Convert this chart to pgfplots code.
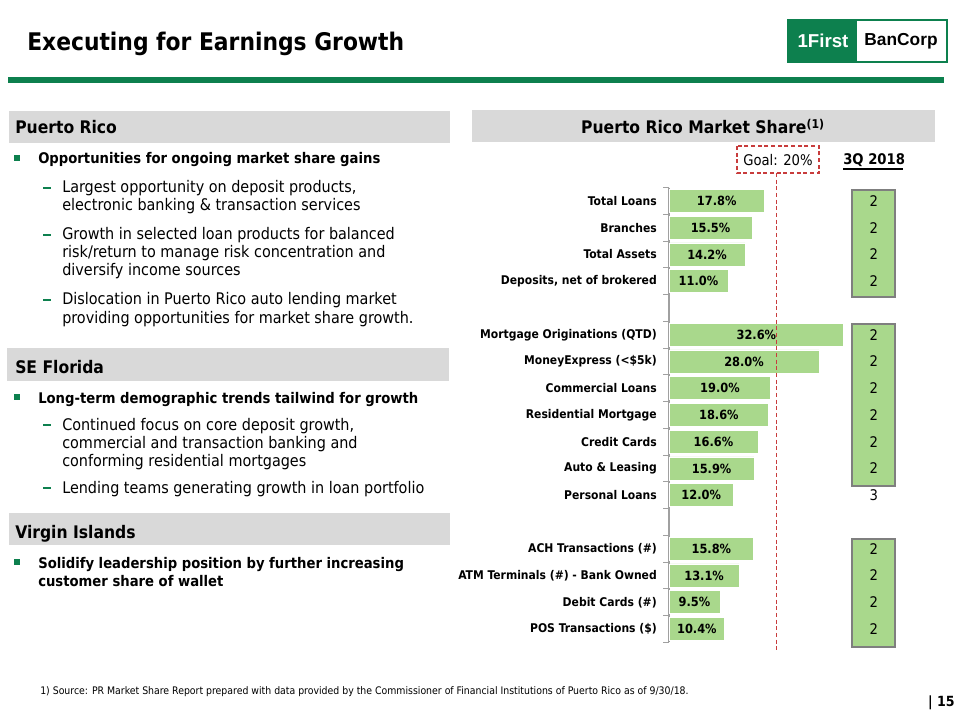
\documentclass[border=0pt]{standalone}
\usepackage{pgfplots}
\pgfplotsset{compat=1.18}
\usepackage{pgfplotstable}
\usepackage{fontspec}
\setmainfont{DejaVu Sans Condensed}
\newfontfamily\logofont{Liberation Sans}
\definecolor{fbgreen}{RGB}{13,128,78}
\definecolor{hdrgrey}{RGB}{217,217,217}
\definecolor{bargreen}{RGB}{169,216,140}
\definecolor{boxgrey}{RGB}{127,127,127}
\definecolor{goalred}{RGB}{200,60,60}
\definecolor{axgrey}{RGB}{160,160,160}

\pgfplotstableread{
y  v    rank
0  17.8 2
1  15.5 2
2  14.2 2
3  11.0 2
5  32.6 2
6  28.0 2
7  19.0 2
8  18.6 2
9  16.6 2
10 15.9 2
11 12.0 3
13 15.8 2
14 13.1 2
15 9.5  2
16 10.4 2
}\sharedata

\newcommand\fs[1]{\fontsize{#1}{1.2\dimexpr#1\relax}\selectfont}

\begin{document}
\begin{tikzpicture}[x=0.75pt,y=-0.75pt]
\useasboundingbox (0,0) rectangle (960,720);

% title and rule
\node[anchor=base west,inner sep=0pt,font=\fs{18.2pt}\bfseries] at (27,51) {Executing for Earnings Growth};
\fill[fbgreen] (8,77) rectangle (944,83);

% logo
\fill[fbgreen] (788,20) rectangle (857,62);
\draw[fbgreen,line width=1pt] (788,20) rectangle (947,62);
\node[anchor=center,inner sep=0pt,text=white,font=\logofont\fs{14pt}\bfseries] at (823,41) {1First};
\node[anchor=center,inner sep=0pt,text=black,font=\logofont\fs{13pt}\bfseries] at (901,41) {BanCorp};

% left headers
\fill[hdrgrey] (9,111) rectangle (450,143);
\node[anchor=base west,inner sep=0pt,font=\fs{13pt}\bfseries] at (15,134) {Puerto Rico};
\fill[hdrgrey] (7,348) rectangle (449,381);
\node[anchor=base west,inner sep=0pt,font=\fs{13pt}\bfseries] at (15,373) {SE Florida};
\fill[hdrgrey] (9,513) rectangle (450,545);
\node[anchor=base west,inner sep=0pt,font=\fs{13pt}\bfseries] at (15,538) {Virgin Islands};

% bullets
\foreach \b in {164,403,568} {\fill[fbgreen] (14,\b-9) rectangle (20,\b-3);}
\foreach \b in {193,240,305,430,493} {\draw[fbgreen,line width=0.9pt] (43,\b-5) -- (51,\b-5);}
\begin{scope}[every node/.style={anchor=base west,inner sep=0pt}]
\node[font=\fs{11pt}\bfseries] at (38,164) {Opportunities for ongoing market share gains};
\node[font=\fs{12pt}] at (62,193) {Largest opportunity on deposit products,};
\node[font=\fs{12pt}] at (62,211) {electronic banking \& transaction services};
\node[font=\fs{12pt}] at (62,240) {Growth in selected loan products for balanced};
\node[font=\fs{12pt}] at (62,258) {risk/return to manage risk concentration and};
\node[font=\fs{12pt}] at (62,276) {diversify income sources};
\node[font=\fs{12pt}] at (62,305) {Dislocation in Puerto Rico auto lending market};
\node[font=\fs{12pt}] at (62,323) {providing opportunities for market share growth.};
\node[font=\fs{11pt}\bfseries] at (38,403) {Long-term demographic trends tailwind for growth};
\node[font=\fs{12pt}] at (62,430) {Continued focus on core deposit growth,};
\node[font=\fs{12pt}] at (62,448) {commercial and transaction banking and};
\node[font=\fs{12pt}] at (62,466) {conforming residential mortgages};
\node[font=\fs{12pt}] at (62,493) {Lending teams generating growth in loan portfolio};
\node[font=\fs{11pt}\bfseries] at (38,568) {Solidify leadership position by further increasing};
\node[font=\fs{11pt}\bfseries] at (38,586) {customer share of wallet};
\end{scope}

% right header
\fill[hdrgrey] (472,110) rectangle (935,142);
\node[anchor=base,inner sep=0pt,font=\fs{13pt}\bfseries] at (703,134) {Puerto Rico Market Share\textsuperscript{(1)}};
\draw[goalred,line width=0.9pt,dash pattern=on 3pt off 2pt] (737,146) rectangle (819,173);
\node[anchor=base,inner sep=0pt,font=\fs{11pt}] at (778,166) {Goal: 20\%};
\node[anchor=base west,inner sep=0pt,font=\fs{11pt}\bfseries] at (843,165) {3Q 2018};
\draw[black,line width=0.8pt] (843,169) -- (903,169);

% rank boxes
\foreach \ya/\yb in {190/297,324/486,539/647}
  {\draw[boxgrey,fill=bargreen,line width=1.2pt] (852,\ya) rectangle (895,\yb);}

\begin{axis}[
  at={(501.75pt,-140.7pt)}, anchor=north west,
  scale only axis, width=140.7pt, height=341.1pt,
  xmin=0, xmax=35, ymin=-0.5, ymax=16.5, y dir=reverse,
  axis x line=none, axis y line*=left,
  axis line style={axgrey,line width=0.8pt},
  clip=false,
  ytick={0,...,16},
  yticklabels={Total Loans,Branches\ ,Total Assets,{Deposits, net of brokered},,
    Mortgage Originations (QTD),MoneyExpress (<\$5k),Commercial Loans,Residential Mortgage,
    Credit Cards,Auto \& Leasing,Personal Loans,,
    ACH Transactions (\#),ATM Terminals (\#) - Bank Owned,Debit Cards (\#),POS Transactions (\$)},
  major tick length=0pt,
  yticklabel style={font=\fs{9pt}\bfseries,inner sep=0pt,xshift=-9pt},
  extra y ticks={-0.5,0.5,...,16.5},
  extra y tick labels={},
  extra y tick style={major tick length=4.5pt,tick align=outside,tick style={axgrey,line width=0.8pt}},
  /pgf/number format/assume math mode=true,
]
\addplot[xbar, bar width=17.3pt, fill=bargreen, draw=white, line width=0.6pt] table[x=v,y=y]{\sharedata};
\addplot[only marks, mark=*, mark size=0pt, point meta=explicit,
  nodes near coords={\pgfmathprintnumber[fixed,fixed zerofill,precision=1]{\pgfplotspointmeta}\%},
  every node near coord/.style={anchor=center,font=\fs{9.5pt}\bfseries,text=black}]
  table[x expr=\thisrow{v}/2, y=y, meta=v]{\sharedata};
\draw[goalred,line width=0.9pt,dash pattern=on 3pt off 2pt] (axis cs:20,-1.05) -- (axis cs:20,16.8);
\addplot[only marks, mark=*, mark size=0pt, point meta=explicit,
  nodes near coords={\pgfmathprintnumber{\pgfplotspointmeta}},
  every node near coord/.style={anchor=center,font=\fs{11pt},text=black}]
  table[x expr=38.2, y=y, meta=rank]{\sharedata};
\end{axis}

% footer
\node[anchor=base west,inner sep=0pt,font=\fs{7.8pt}] at (40,694) {1) Source: PR Market Share Report prepared with data provided by the Commissioner of Financial Institutions of Puerto Rico as of 9/30/18.};
\node[anchor=base east,inner sep=0pt,font=\fs{10.5pt}\bfseries] at (955,706) {| 15};
\end{tikzpicture}
\end{document}
